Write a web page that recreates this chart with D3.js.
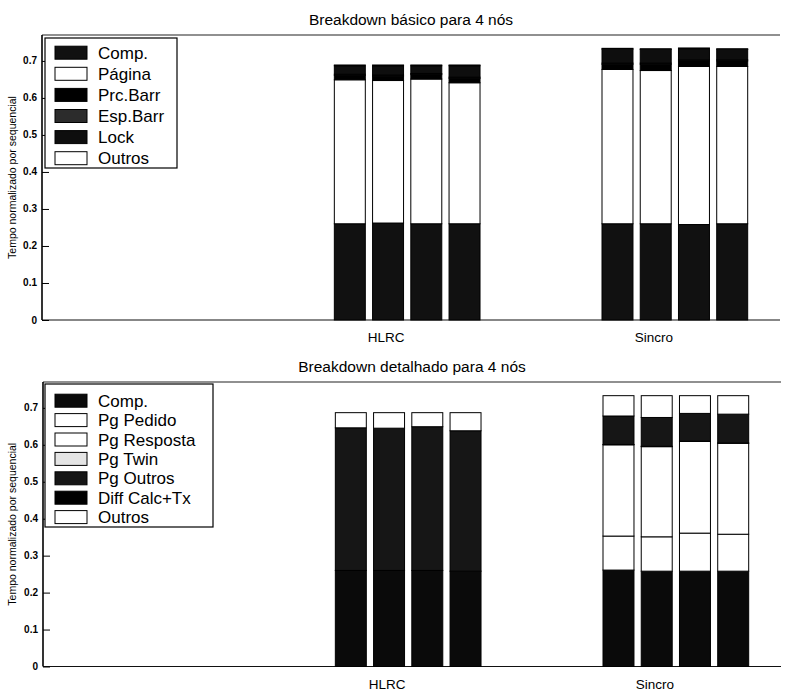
<!DOCTYPE html>
<html><head><meta charset="utf-8">
<script src="https://cdn.jsdelivr.net/npm/d3@7/dist/d3.min.js"></script>
<style>body{margin:0;background:#fff;} svg{display:block;font-family:"Liberation Sans",Arial,Helvetica,sans-serif;}</style>
</head><body><svg id="c" width="787" height="693"></svg>
<script>
// ---------- data ----------
const categories = ["HLRC", "Sincro"];
const runs = ["1", "2", "3", "4"];
const yTicks = [0, 0.1, 0.2, 0.3, 0.4, 0.5, 0.6, 0.7];
const yTickLabels = ["0", "0.1", "0.2", "0.3", "0.4", "0.5", "0.6", "0.7"];

// top panel: basic breakdown (per category, 4 runs)
const basicKeys = ["Comp.", "Página", "Prc.Barr", "Esp.Barr", "Lock", "Outros"];
const basicComp    = {HLRC: [0.260, 0.262, 0.260, 0.260], Sincro: [0.260, 0.260, 0.258, 0.260]};
const basicPagina  = {HLRC: [0.389, 0.385, 0.391, 0.381], Sincro: [0.417, 0.414, 0.427, 0.425]};
const basicPrcBarr = {HLRC: [0.012, 0.012, 0.012, 0.012], Sincro: [0.014, 0.017, 0.015, 0.015]};
const basicEspBarr = {HLRC: [0.003, 0.003, 0.003, 0.003], Sincro: [0.003, 0.003, 0.003, 0.003]};
const basicLock    = {HLRC: [0.023, 0.025, 0.021, 0.031], Sincro: [0.038, 0.037, 0.030, 0.028]};
const basicOutros  = {HLRC: [0.002, 0.002, 0.002, 0.002], Sincro: [0.002, 0.002, 0.002, 0.002]};

// bottom panel: detailed breakdown
const detKeys = ["Comp.", "Pg Pedido", "Pg Resposta", "Pg Twin", "Pg Outros", "Diff Calc+Tx", "Outros"];
const detComp      = {HLRC: [0.260, 0.260, 0.260, 0.258], Sincro: [0.261, 0.258, 0.258, 0.258]};
const detPgPedido  = {HLRC: [0, 0, 0, 0], Sincro: [0.092, 0.093, 0.103, 0.100]};
const detPgResp    = {HLRC: [0, 0, 0, 0], Sincro: [0.247, 0.244, 0.248, 0.246]};
const detPgTwin    = {HLRC: [0, 0, 0, 0], Sincro: [0.001, 0.001, 0.001, 0.001]};
const detPgOutros  = {HLRC: [0.386, 0.385, 0.389, 0.380], Sincro: [0.077, 0.078, 0.075, 0.078]};
const detDiff      = {HLRC: [0, 0, 0, 0], Sincro: [0, 0, 0, 0]};
const detOutros    = {HLRC: [0.041, 0.042, 0.038, 0.049], Sincro: [0.055, 0.059, 0.048, 0.050]};

// ---------- build ----------
function rows(keys, arrays) {
  const out = [];
  categories.forEach((c, ci) => runs.forEach((r, ri) => {
    const o = {cat: c, ci: ci, ri: ri};
    keys.forEach((k, ki) => o[k] = arrays[ki][c][ri]);
    out.push(o);
  }));
  return out;
}
const basicRows = rows(basicKeys, [basicComp, basicPagina, basicPrcBarr, basicEspBarr, basicLock, basicOutros]);
const detRows = rows(detKeys, [detComp, detPgPedido, detPgResp, detPgTwin, detPgOutros, detDiff, detOutros]);

const svg = d3.select("#c");
svg.append("rect").attr("width", 787).attr("height", 693).attr("fill", "#fff");

const groupGap = 7, barOffsets = [-0.95, 0.05, 1.05, 2.05], barW = 0.81;

function panel(cfg) {
  const g = svg.append("g");
  const x = d3.scaleLinear().domain([-2, 17.3]).range([cfg.left, cfg.right]);
  const y = d3.scaleLinear().domain([0, 0.77]).range([cfg.bottom, cfg.top]);
  const color = d3.scaleOrdinal().domain(cfg.keys).range(cfg.colors);
  const stack = d3.stack().keys(cfg.keys)(cfg.rows);
  const pos = d => (d.data.ci + 1) * groupGap + barOffsets[d.data.ri];

  // frame
  g.append("line").attr("x1", cfg.left).attr("x2", cfg.right).attr("y1", cfg.top).attr("y2", cfg.top)
    .attr("stroke", "#222").attr("stroke-width", 1.2);
  g.append("line").attr("x1", cfg.left).attr("x2", cfg.right).attr("y1", cfg.bottom).attr("y2", cfg.bottom)
    .attr("stroke", "#111").attr("stroke-width", 1.2);

  // bars
  stack.forEach(s => {
    g.append("g").selectAll("rect").data(s.filter(d => d[1] - d[0] > 0)).join("rect")
      .attr("x", d => x(pos(d) - barW / 2))
      .attr("width", x(barW) - x(0))
      .attr("y", d => y(d[1]))
      .attr("height", d => y(d[0]) - y(d[1]))
      .attr("fill", color(s.key))
      .attr("stroke", "#000").attr("stroke-width", 1);
  });

  // y axis
  const ax = g.append("g").attr("transform", `translate(${cfg.left},0)`)
    .call(d3.axisRight(y).tickValues(yTicks).tickSize(7).tickFormat(""));
  ax.select(".domain").attr("stroke", "#000").attr("stroke-width", 1.6).attr("d", `M0,${cfg.bottom}V${cfg.top}`);
  ax.selectAll(".tick line").attr("stroke", "#000");
  g.selectAll(".ylab").data(yTicks).join("text")
    .attr("x", cfg.left - 5).attr("y", d => y(d)).attr("dy", "0.35em")
    .attr("text-anchor", "end").attr("font-size", 10).attr("font-weight", "bold")
    .text((d, i) => yTickLabels[i]);

  // x labels
  g.selectAll(".xlab").data(categories).join("text")
    .attr("x", (d, i) => x((i + 1) * groupGap)).attr("y", cfg.bottom + 22)
    .attr("text-anchor", "middle").attr("font-size", 13.5).text(d => d);

  // title
  g.append("text").attr("x", (cfg.left + cfg.right) / 2).attr("y", cfg.top - 10)
    .attr("text-anchor", "middle").attr("font-size", 15.5).text(cfg.title);

  // y title
  g.append("text").attr("transform", `translate(16,${(cfg.top + cfg.bottom) / 2}) rotate(-90)`)
    .attr("text-anchor", "middle").attr("font-size", 10.5).text("Tempo normalizado por sequencial");

  // legend
  const L = cfg.legend;
  g.append("rect").attr("x", L.x).attr("y", L.y).attr("width", L.w).attr("height", L.h)
    .attr("fill", "#fff").attr("stroke", "#000").attr("stroke-width", 1.2);
  const li = g.selectAll(".li").data(cfg.keys).join("g")
    .attr("transform", (d, i) => `translate(0,${L.first + i * L.step})`);
  li.append("rect").attr("x", L.x + 10).attr("y", -6.5).attr("width", 32).attr("height", 13)
    .attr("fill", d => color(d)).attr("stroke", "#000").attr("stroke-width", 1);
  li.append("text").attr("x", L.x + 53).attr("y", 0).attr("dy", "0.36em")
    .attr("font-size", 17).text(d => d);
}

panel({
  keys: basicKeys, rows: basicRows,
  colors: ["#111111", "#ffffff", "#000000", "#2c2c2c", "#0e0e0e", "#ffffff"],
  left: 42, right: 780, top: 35, bottom: 320,
  title: "Breakdown básico para 4 nós",
  legend: {x: 45, y: 38, w: 132, h: 130, first: 52.7, step: 21.1}
});
panel({
  keys: detKeys, rows: detRows,
  colors: ["#0a0a0a", "#ffffff", "#ffffff", "#e4e4e4", "#161616", "#000000", "#ffffff"],
  left: 43, right: 781, top: 382, bottom: 666.5,
  title: "Breakdown detalhado para 4 nós",
  legend: {x: 45, y: 384, w: 168, h: 143, first: 400.7, step: 19.4}
});
</script></body></html>
